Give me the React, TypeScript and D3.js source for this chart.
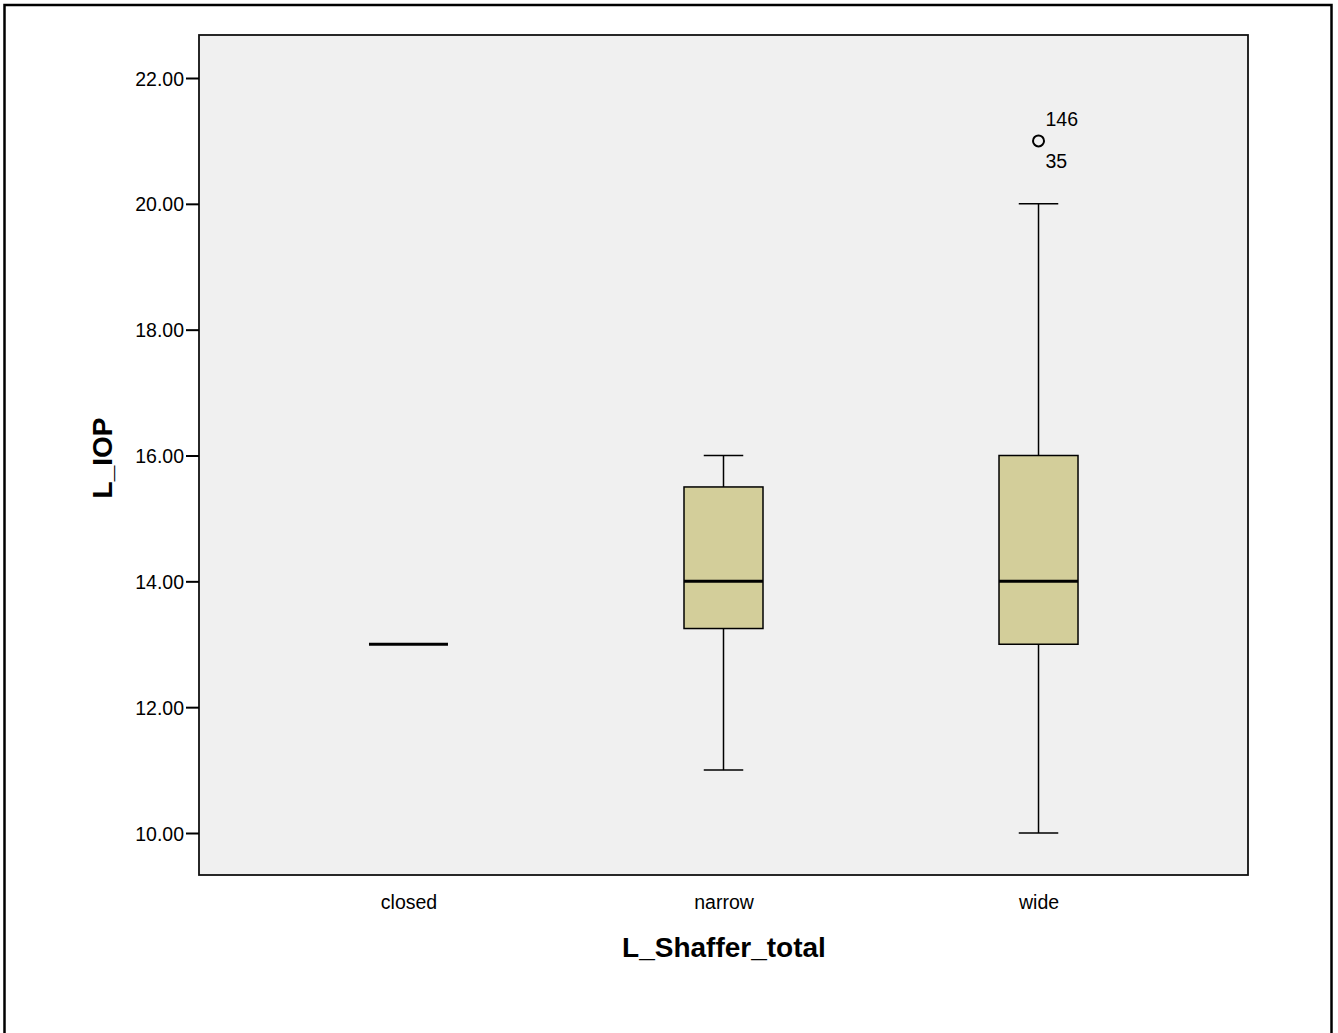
import React, { useEffect, useRef } from 'react';
import * as d3 from 'd3';

// Boxplot summary per group
const categories = ['closed', 'narrow', 'wide'];
const whiskerLow = [13, 11, 10];
const q1 = [13, 13.25, 13];
const median = [13, 14, 14];
const q3 = [13, 15.5, 16];
const whiskerHigh = [13, 16, 20];

// outliers: group index, value, case labels
const outlierGroup = [2];
const outlierValue = [21];
const outlierLabels = [['146', '35']];

const yTicks = [10, 12, 14, 16, 18, 20, 22];

const W = 1338;
const H = 1033;
const FONT = 'Arial, "Liberation Sans", Helvetica, sans-serif';

export default function App() {
  const ref = useRef<SVGSVGElement>(null);

  useEffect(() => {
    document.body.style.margin = '0';
    if (!ref.current) return;
    const svg = d3.select(ref.current);
    svg.selectAll('*').remove();

    const plot = { left: 199, top: 35, right: 1248, bottom: 875 };

    // outer frame
    svg.append('rect')
      .attr('x', 4.5).attr('y', 5)
      .attr('width', 1327).attr('height', H + 20)
      .attr('fill', '#fff')
      .attr('stroke', '#000')
      .attr('stroke-width', 2.5);

    const y = d3.scaleLinear().domain([10, 22]).range([833, 78]);
    const x = d3.scalePoint<string>().domain(categories).range([plot.left, plot.right]).padding(0.665);
    const boxW = 79;

    // plot background
    svg.append('rect')
      .attr('x', plot.left).attr('y', plot.top)
      .attr('width', plot.right - plot.left).attr('height', plot.bottom - plot.top)
      .attr('fill', '#f0f0f0')
      .attr('stroke', '#111')
      .attr('stroke-width', 1.8);

    // y axis ticks
    const yAxis = svg.append('g').attr('transform', `translate(${plot.left},0)`)
      .call(d3.axisLeft(y).tickValues(yTicks).tickSize(13).tickPadding(2).tickFormat(d3.format('.2f')));
    yAxis.select('.domain').remove();
    yAxis.selectAll('line').attr('stroke', '#000').attr('stroke-width', 2);
    yAxis.selectAll('text')
      .attr('fill', '#000')
      .attr('dy', '0.36em')
      .style('font-family', FONT)
      .style('font-size', '19.5px');

    // x axis labels
    const xAxis = svg.append('g').attr('transform', `translate(0,${plot.bottom})`)
      .call(d3.axisBottom(x).tickSize(0).tickPadding(20));
    xAxis.select('.domain').remove();
    xAxis.selectAll('text')
      .attr('fill', '#000')
      .style('font-family', FONT)
      .style('font-size', '19.5px');

    // axis titles
    svg.append('text')
      .attr('x', 724).attr('y', 957)
      .attr('text-anchor', 'middle')
      .style('font-family', FONT).style('font-size', '28px').style('font-weight', 'bold')
      .text('L_Shaffer_total');
    svg.append('text')
      .attr('transform', `translate(112,458) rotate(-90)`)
      .attr('text-anchor', 'middle')
      .style('font-family', FONT).style('font-size', '28px').style('font-weight', 'bold')
      .text('L_IOP');

    // boxes
    const g = svg.append('g');
    categories.forEach((c, i) => {
      const cx = x(c)!;
      if (q3[i] - q1[i] <= 0) {
        g.append('line')
          .attr('x1', cx - boxW / 2).attr('x2', cx + boxW / 2)
          .attr('y1', y(median[i])).attr('y2', y(median[i]))
          .attr('stroke', '#000').attr('stroke-width', 3);
        return;
      }
      // whiskers
      g.append('line')
        .attr('x1', cx).attr('x2', cx)
        .attr('y1', y(whiskerHigh[i])).attr('y2', y(q3[i]))
        .attr('stroke', '#000').attr('stroke-width', 1.5);
      g.append('line')
        .attr('x1', cx).attr('x2', cx)
        .attr('y1', y(q1[i])).attr('y2', y(whiskerLow[i]))
        .attr('stroke', '#000').attr('stroke-width', 1.5);
      [whiskerHigh[i], whiskerLow[i]].forEach(v => {
        g.append('line')
          .attr('x1', cx - boxW / 4).attr('x2', cx + boxW / 4)
          .attr('y1', y(v)).attr('y2', y(v))
          .attr('stroke', '#000').attr('stroke-width', 1.5);
      });
      g.append('rect')
        .attr('x', cx - boxW / 2).attr('y', y(q3[i]))
        .attr('width', boxW).attr('height', y(q1[i]) - y(q3[i]))
        .attr('fill', '#d3ce9a')
        .attr('stroke', '#000').attr('stroke-width', 1.5);
      g.append('line')
        .attr('x1', cx - boxW / 2).attr('x2', cx + boxW / 2)
        .attr('y1', y(median[i])).attr('y2', y(median[i]))
        .attr('stroke', '#000').attr('stroke-width', 3);
    });

    // outliers
    outlierGroup.forEach((gi, k) => {
      const cx = x(categories[gi])!;
      const cy = y(outlierValue[k]);
      g.append('circle')
        .attr('cx', cx).attr('cy', cy).attr('r', 5.5)
        .attr('fill', 'none').attr('stroke', '#000').attr('stroke-width', 2);
      const labels = outlierLabels[k];
      g.append('text')
        .attr('x', cx + 7).attr('y', cy - 15)
        .style('font-family', FONT).style('font-size', '19.5px')
        .text(labels[0]);
      g.append('text')
        .attr('x', cx + 7).attr('y', cy + 27)
        .style('font-family', FONT).style('font-size', '19.5px')
        .text(labels[1]);
    });
  }, []);

  return (
    <svg ref={ref} width={W} height={H} style={{ display: 'block', background: '#fff' }} />
  );
}
